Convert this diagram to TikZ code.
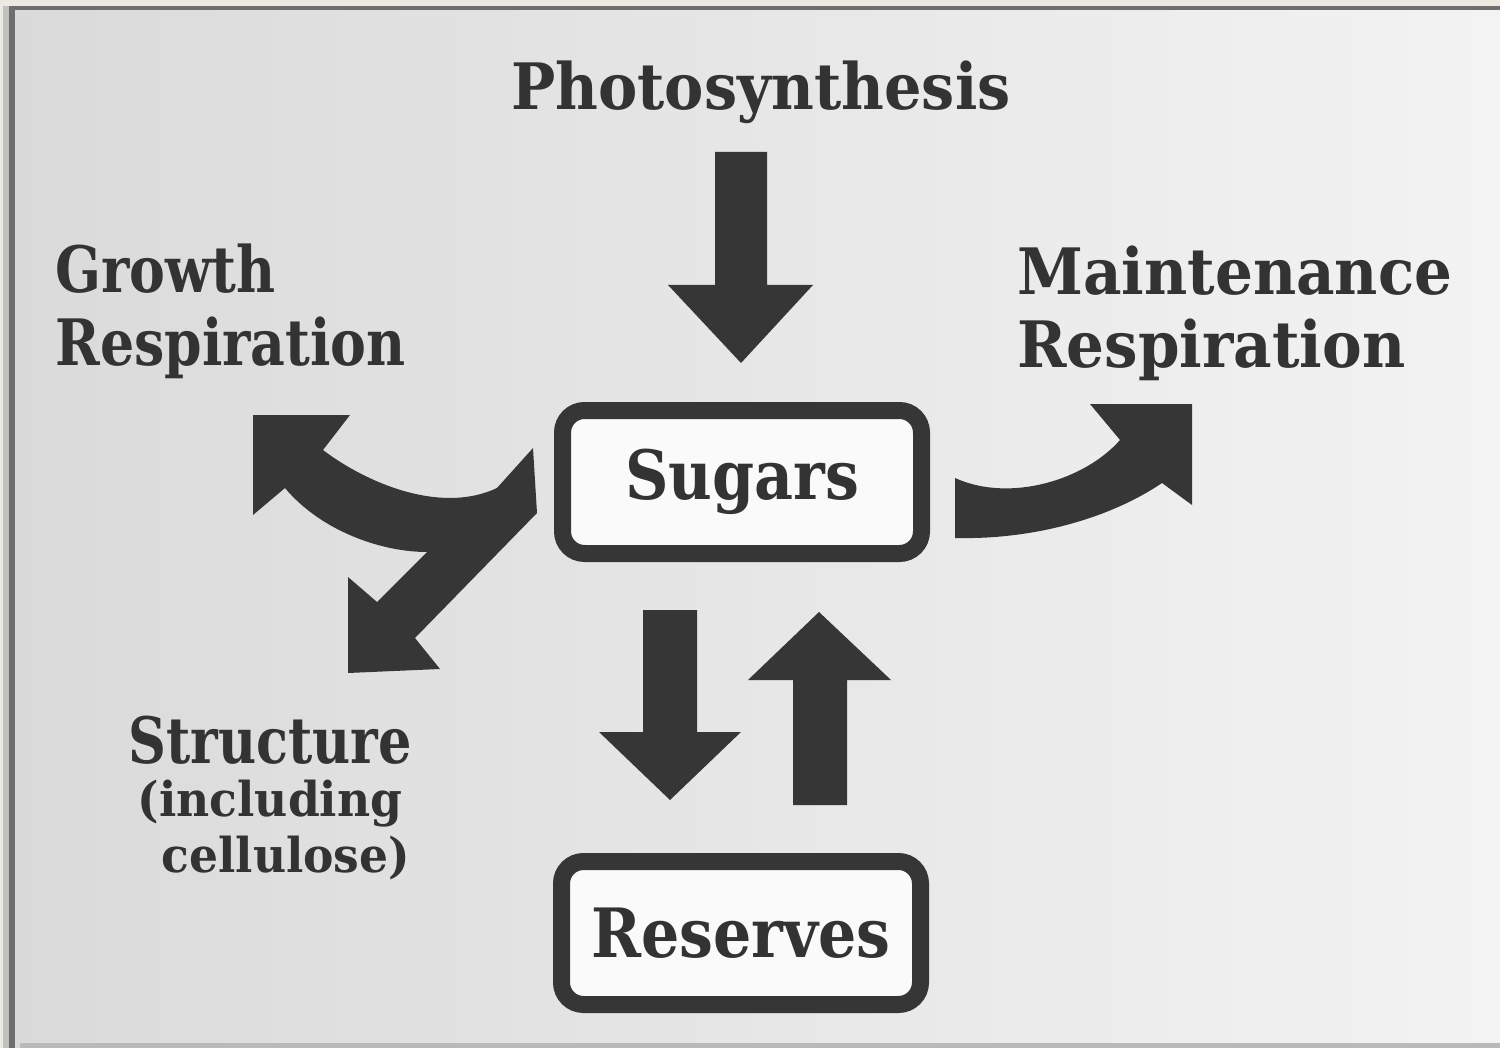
\documentclass[tikz,border=0pt]{standalone}
\usepackage{fontspec}
\setmainfont{DejaVu Serif}[FakeStretch=0.85]
\newfontfamily\fPhoto{DejaVu Serif}[FakeStretch=0.92]
\newfontfamily\fGrow{DejaVu Serif}[FakeStretch=0.84]
\newfontfamily\fMaint{DejaVu Serif}[FakeStretch=0.93]
\newfontfamily\fStruct{DejaVu Serif}[FakeStretch=0.82]
\newfontfamily\fSub{DejaVu Serif}[FakeStretch=0.95]
\newfontfamily\fBox{DejaVu Serif}[FakeStretch=0.885]
\newcommand\bigsz{\fontsize{32}{36.5}\selectfont\bfseries}
\newcommand\boxsz{\fBox\fontsize{34}{38}\selectfont\bfseries}
\newcommand\subsz{\fSub\fontsize{24}{27}\selectfont\bfseries}
\definecolor{ink}{HTML}{333333}
\definecolor{blk}{HTML}{363636}
\definecolor{paperL}{HTML}{DADADA}
\definecolor{paperR}{HTML}{F3F3F3}
\definecolor{edgeA}{HTML}{ECE8E2}
\definecolor{edgeB}{HTML}{C0C0C0}
\definecolor{edgeC}{HTML}{6E6E6E}
\definecolor{edgeD}{HTML}{B9B9B9}
\begin{document}
\begin{tikzpicture}[x=0.5pt,y=-0.5pt,
  lab/.style={font=\bigsz, text=ink, inner sep=0pt},
  boxnode/.style={draw=blk, line width=8.5pt, rounded corners=11pt, fill=white!60!paperR,
    font=\boxsz, text=ink, minimum width=179.5pt, minimum height=71.5pt, inner sep=0pt},
  flow/.style={fill=blk, draw=none}]
% background
\useasboundingbox (0,0) rectangle (1500,1048);
\fill[edgeA] (0,0) rectangle (1500,1048);
\shade[left color=paperL, right color=paperR] (8,8) rectangle (1500,1048);
\fill[edgeB] (3,6) rectangle (9,1048);
\fill[edgeC] (9,6) rectangle (15,1048);
\fill[edgeC] (9,6) rectangle (1500,10);
\fill[edgeD] (20,1043) rectangle (1500,1048);

% labels
\node[lab, anchor=base, font=\fPhoto\bigsz] (photo) at (761,110) {Photosynthesis};
\node[lab, anchor=north west, align=left, font=\fGrow\bigsz] (growth) at (55,243) {Growth\\Respiration};
\node[lab, anchor=north west, align=left, font=\fMaint\bigsz] (maint) at (1017,245) {Maintenance\\Respiration};
\node[lab, anchor=north, align=center, font=\fStruct\bigsz] (struct) at (270,716)
  {Structure\\[-10pt]{\subsz(including}\\[-8.5pt]{\subsz\ \ cellulose)}};

% boxes
\node[boxnode] (sugars) at (742,482) {Sugars};
\node[boxnode] (reserves) at (741,933) {Reserves};

% Photosynthesis -> Sugars
\fill[flow] (715,152) -- (767,152) -- (767,285) -- (813,285) -- (741,363)
  -- (668,285) -- (715,285) -- cycle;
% Sugars -> Reserves
\fill[flow] (643,610) -- (697,610) -- (697,732) -- (741,732) -- (670,800)
  -- (599,732) -- (643,732) -- cycle;
% Reserves -> Sugars
\fill[flow] (793,805) -- (847,805) -- (847,680) -- (891,680) -- (819,612)
  -- (748,680) -- (793,680) -- cycle;
% Sugars -> Maintenance Respiration
\fill[flow] (955,478) -- (955,538)
  .. controls (1040,540) and (1115,515) .. (1162,483)
  -- (1192,505) -- (1192,404) -- (1090,404) -- (1120,440)
  .. controls (1085,480) and (1010,503) .. (955,478) -- cycle;
% Sugars -> Growth Respiration and Structure
\fill[flow] (253,415) -- (350,415) -- (323,450)
  .. controls (365,482) and (440,515) .. (497,488)
  -- (533,448) -- (537,513) -- (415,638) -- (440,669) -- (348,673)
  -- (348,577) -- (377,602) -- (427,552)
  .. controls (380,552) and (320,530) .. (285,488)
  -- (253,515) -- cycle;
\end{tikzpicture}
\end{document}
